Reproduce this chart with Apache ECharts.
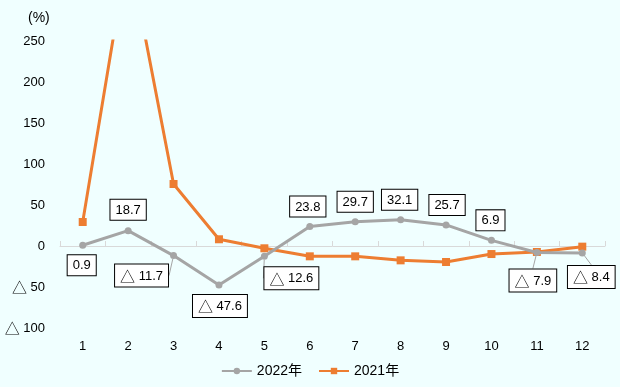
<!DOCTYPE html>
<html><head><meta charset="utf-8">
<script src="https://cdn.jsdelivr.net/npm/echarts@6/dist/echarts.min.js"></script>
<style>html,body{margin:0;padding:0;background:#F0FFFF;}#c{width:620px;height:387px;}</style>
</head><body><div id="c"></div>
<script>
const categories = ['1','2','3','4','5','6','7','8','9','10','11','12'];
const series2022 = [0.9, 18.7, -11.7, -47.6, -12.6, 23.8, 29.7, 32.1, 25.7, 6.9, -7.9, -8.4];
const series2021 = [29.3, 363, 75.6, 8.2, -2.8, -12.6, -12.6, -17.5, -19.5, -9.8, -7.3, -0.8];
const yTicks = {min: -100, max: 250, interval: 50};
const labelOffsets = [[-1,20],[0,-21],[-32,20],[1,21],[27,22],[-2,-20],[0,-20],[-1,-20],[1,-20],[-1,-20],[-4,28],[9,24]];
const leaderShown = [false,false,true,false,true,false,false,false,false,false,true,true];

const fmt = v => v < 0 ? '{t|△} ' + Math.abs(v).toFixed(1) : v.toFixed(1);
const font = '"Liberation Sans", "DejaVu Sans", "Noto Sans CJK JP", sans-serif';
const triRich = {t: {fontFamily: '"Noto Sans CJK JP"', fontSize: 15, color: '#000'}};

const chart = echarts.init(document.getElementById('c'), null, {renderer: 'canvas'});
chart.setOption({
  backgroundColor: '#F0FFFF',
  animation: false,
  textStyle: {fontFamily: font},
  title: {text: '(%)', left: 23, top: 6, textStyle: {fontSize: 14, fontWeight: 'normal', color: '#000', fontFamily: font}},
  grid: {left: 60, right: 15, top: 41, bottom: 59},
  legend: {
    bottom: 4, left: 'center', itemWidth: 30, itemHeight: 8, itemGap: 16,
    textStyle: {fontSize: 14, color: '#000', fontFamily: font},
    data: ['2022年', '2021年']
  },
  xAxis: [
    {type: 'category', data: categories, position: 'bottom', axisLine: {show: false, onZero: false},
     axisTick: {show: false}, axisLabel: {color: '#000', fontSize: 13, margin: 12, fontFamily: font}},
    {type: 'category', data: categories, position: 'bottom', axisLine: {show: true, onZero: true, lineStyle: {color: '#D9D9D9', width: 1}},
     axisTick: {show: true, inside: true, length: 5, lineStyle: {color: '#D9D9D9'}}, axisLabel: {show: false}}
  ],
  yAxis: {type: 'value', min: yTicks.min, max: yTicks.max, interval: yTicks.interval,
    axisLine: {show: false}, axisTick: {show: false}, splitLine: {show: false},
    axisLabel: {color: '#000', fontSize: 13, margin: 15, fontFamily: font, rich: triRich,
      formatter: v => v < 0 ? '{t|△} ' + Math.abs(v) : String(v)}},
  series: [
    {name: '2022年', type: 'line', xAxisIndex: 0,
     data: series2022.map((v, i) => ({value: v, labelLine: {show: leaderShown[i]}})),
     symbol: 'circle', symbolSize: 7, z: 3,
     itemStyle: {color: '#A5A5A5'}, lineStyle: {color: '#A5A5A5', width: 3},
     label: {show: true, position: 'inside', formatter: p => fmt(p.value), color: '#000', fontSize: 13, fontFamily: font,
       rich: triRich,
       backgroundColor: '#FFFFFF', borderColor: '#000', borderWidth: 1, padding: [4, 5, 3, 5]},
     labelLine: {show: true, lineStyle: {color: '#A5A5A5', width: 1}},
     labelLayout: p => {
       const o = labelOffsets[p.dataIndex];
       return {x: p.rect.x + p.rect.width / 2 + o[0], y: p.rect.y + p.rect.height / 2 + o[1], align: 'center', verticalAlign: 'middle'};
     }
    },
    {name: '2021年', type: 'line', xAxisIndex: 0, data: series2021,
     symbol: 'rect', symbolSize: 8, z: 2,
     itemStyle: {color: '#ED7D31'}, lineStyle: {color: '#ED7D31', width: 3}}
  ]
});
</script></body></html>
